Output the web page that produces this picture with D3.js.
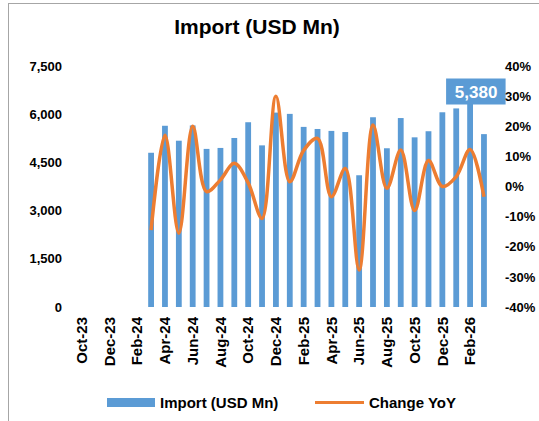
<!DOCTYPE html>
<html>
<head>
<meta charset="utf-8">
<script src="https://cdn.jsdelivr.net/npm/d3@7"></script>
<style>
  body { margin: 0; background: #fff; }
  svg { font-family: "Liberation Sans", Arial, sans-serif; font-weight: bold; }
</style>
</head>
<body>
<svg width="539" height="421"></svg>
<script>
// months on the axis (Oct-23 .. Mar-26)
var months = ["Oct-23","Nov-23","Dec-23","Jan-24","Feb-24","Mar-24","Apr-24","May-24","Jun-24",
  "Jul-24","Aug-24","Sep-24","Oct-24","Nov-24","Dec-24","Jan-25","Feb-25","Mar-25","Apr-25",
  "May-25","Jun-25","Jul-25","Aug-25","Sep-25","Oct-25","Nov-25","Dec-25","Jan-26","Feb-26","Mar-26"];
// import values, null where no bar
var imports = [null,null,null,null,null,4800,5640,5175,5650,4920,4950,5260,5750,5030,6050,6010,
  5605,5540,5480,5445,4100,5905,4940,5880,5280,5470,6060,6180,6450,5380];
// change yoy (%)
var yoy = [null,null,null,null,null,-14.5,17,-15.5,20,-1.7,2.2,7.7,1.2,-10.6,30,1.6,
  12,16,-3.4,6,-27.7,20.4,-0.6,12.1,-8,8.6,0,3.3,12.3,-3.4];
var leftTicks = [0,1500,3000,4500,6000,7500];
var rightTicks = [-40,-30,-20,-10,0,10,20,30,40];
var labelIdx = 28, labelText = "5,380";

var svg = d3.select("svg"),
  blue = "#5b9bd5",
  orange = "#ed7d31";

// frame
svg.append("line").attr("x1", 8.5).attr("x2", 8.5).attr("y1", 3).attr("y2", 421)
  .attr("stroke", "#a6a6a6");
svg.append("line").attr("x1", 8).attr("x2", 539).attr("y1", 3.5).attr("y2", 3.5)
  .attr("stroke", "#a6a6a6");

var x = d3.scaleBand().domain(months).range([74.8, 490.9]),
  y = d3.scaleLinear().domain([0, 7500]).range([307, 66]),
  y2 = d3.scaleLinear().domain([-40, 40]).range([307, 66]);

// title
svg.append("text").attr("x", 257).attr("y", 34).attr("text-anchor", "middle")
  .style("font-size", "21px").text("Import (USD Mn)");

// bars
var bw = 5.8;
svg.append("g").selectAll("rect")
  .data(months.map(function(m, i){ return {m: m, v: imports[i]}; }).filter(function(d){ return d.v != null; }))
  .enter().append("rect")
  .attr("x", function(d){ return x(d.m) + x.bandwidth()/2 - bw/2; })
  .attr("width", bw)
  .attr("y", function(d){ return y(d.v); })
  .attr("height", function(d){ return y(0) - y(d.v); })
  .attr("fill", blue);

// line
var pts = months.map(function(m, i){ return {m: m, v: yoy[i]}; }).filter(function(d){ return d.v != null; });
var line = d3.line()
  .x(function(d){ return x(d.m) + x.bandwidth()/2; })
  .y(function(d){ return y2(d.v); })
  .curve(d3.curveCatmullRom.alpha(0.5));
svg.append("path").attr("d", line(pts)).attr("fill", "none")
  .attr("stroke", orange).attr("stroke-width", 3.5).attr("stroke-linejoin", "round");

// data label box
var lx = x(months[labelIdx]) + x.bandwidth()/2 + 6;
svg.append("rect").attr("x", lx - 30).attr("y", 78.5).attr("width", 59.5).attr("height", 26)
  .attr("fill", blue);
svg.append("text").attr("x", lx).attr("y", 97.5).attr("text-anchor", "middle")
  .attr("fill", "#fff").style("font-size", "17px").text(labelText);

// left axis
var ax1 = svg.append("g").attr("transform", "translate(62,0)")
  .call(d3.axisLeft(y).tickValues(leftTicks).tickFormat(d3.format(",")).tickSize(0).tickPadding(0));
ax1.select(".domain").remove();
ax1.selectAll("text").style("font-size", "13px").style("font-family", null).attr("fill", "#000");

// right axis
var ax2 = svg.append("g").attr("transform", "translate(505,0)")
  .call(d3.axisRight(y2).tickValues(rightTicks).tickFormat(function(d){ return d + "%"; }).tickSize(0).tickPadding(0));
ax2.select(".domain").remove();
ax2.selectAll("text").style("font-size", "13px").style("font-family", null).attr("fill", "#000");

// x axis (every second month)
var ax3 = svg.append("g").attr("transform", "translate(0,317)")
  .call(d3.axisBottom(x).tickValues(months.filter(function(d, i){ return i % 2 == 0; })).tickSize(0).tickPadding(0));
ax3.select(".domain").remove();
ax3.selectAll("text").style("font-size", "15px").style("font-family", null).attr("fill", "#000")
  .attr("transform", "rotate(-90)").attr("text-anchor", "end")
  .attr("x", 0).attr("y", 0).attr("dy", "0.35em");

// legend
var lg = svg.append("g");
lg.append("rect").attr("x", 107).attr("y", 398).attr("width", 48).attr("height", 9).attr("fill", blue);
lg.append("text").attr("x", 160).attr("y", 408).style("font-size", "15px").text("Import (USD Mn)");
lg.append("line").attr("x1", 315).attr("x2", 364).attr("y1", 402.5).attr("y2", 402.5)
  .attr("stroke", orange).attr("stroke-width", 3);
lg.append("text").attr("x", 369).attr("y", 408).style("font-size", "15px").text("Change YoY");
</script>
</body>
</html>
